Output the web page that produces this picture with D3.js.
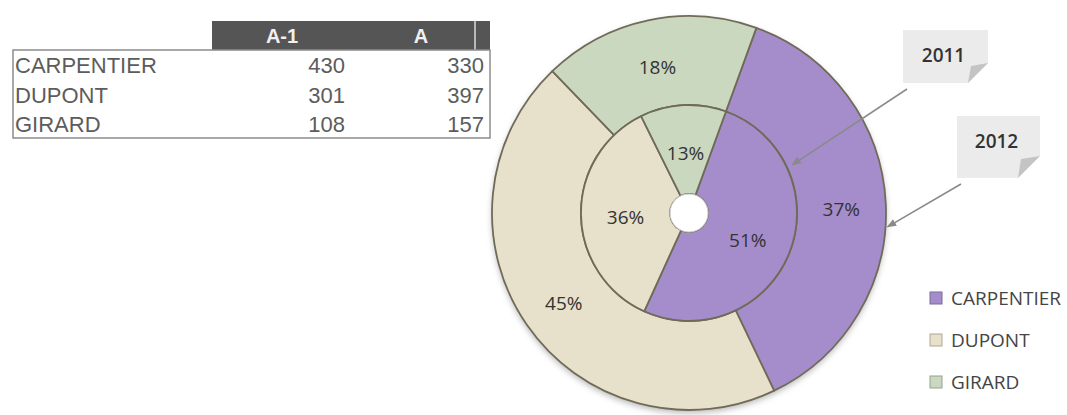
<!DOCTYPE html>
<html>
<head>
<meta charset="utf-8">
<script src="https://cdn.jsdelivr.net/npm/d3@7"></script>
<style>
  body { margin: 0; background: #fff; }
  svg { display: block; }
</style>
</head>
<body>
<svg id="chart" width="1067" height="415"></svg>
<script>
//Data
const names = ["CARPENTIER", "DUPONT", "GIRARD"];
const colHeaders = ["A-1", "A"];
const valuesPrev = [430, 301, 108];   // A-1 -> inner ring (2011)
const valuesCurr = [330, 397, 157];   // A   -> outer ring (2012)
const ringYears = ["2011", "2012"];
const sliceColors = ["#a58dcb", "#e7e0ca", "#c9d8be"];

//Layout constants
const cx = 689, cy = 213;
const holeR = 19, midR = 108, outerR = 197;
const startDeg = 20;

const svg = d3.select("#chart");
const defs = svg.append("defs");

defs.append("filter").attr("id", "shadow")
    .attr("x", "-10%").attr("y", "-10%").attr("width", "120%").attr("height", "120%")
    .append("feDropShadow")
    .attr("dx", 0).attr("dy", 3).attr("stdDeviation", 3)
    .attr("flood-color", "#000").attr("flood-opacity", 0.28);

/************ Table ************/
const table = svg.append("g");
const colX = d3.scalePoint().domain(colHeaders).range([345, 484]);
const rowY = d3.scaleBand().domain(names).range([50, 138]);

//header bar
table.append("rect").attr("x", 212).attr("y", 21).attr("width", 278).attr("height", 29).attr("fill", "#555555");
table.append("rect").attr("x", 474).attr("y", 21).attr("width", 2).attr("height", 29).attr("fill", "#b8b8b8");
table.selectAll("text.head")
    .data(colHeaders)
    .enter().append("text")
    .attr("class", "head")
    .attr("x", (d, i) => i == 0 ? 282 : 421)
    .attr("y", 36)
    .attr("dominant-baseline", "central")
    .attr("text-anchor", "middle")
    .attr("font-family", "Liberation Sans, Arial, sans-serif")
    .attr("font-weight", "bold")
    .attr("font-size", 20)
    .attr("fill", "#f0f0f0")
    .text(d => d);

table.append("rect")
    .attr("x", 13).attr("y", 50).attr("width", 477).attr("height", 88)
    .attr("fill", "none").attr("stroke", "#8c8c8c").attr("stroke-width", 1.5);

const rows = table.selectAll("g.row")
    .data(names)
    .enter().append("g")
    .attr("class", "row")
    .attr("transform", d => "translate(0," + (rowY(d) + rowY.bandwidth() / 2 + 1) + ")");

rows.append("text")
    .attr("x", 15)
    .attr("dominant-baseline", "central")
    .attr("font-family", "Liberation Sans, Arial, sans-serif")
    .attr("font-size", 22)
    .attr("fill", "#5c5c5c")
    .text(d => d);

rows.selectAll("text.val")
    .data((d, i) => [valuesPrev[i], valuesCurr[i]])
    .enter().append("text")
    .attr("class", "val")
    .attr("x", (d, j) => colX(colHeaders[j]))
    .attr("text-anchor", "end")
    .attr("dominant-baseline", "central")
    .attr("font-family", "Liberation Sans, Arial, sans-serif")
    .attr("font-size", 22)
    .attr("fill", "#5c5c5c")
    .text(d => d);

/************ Doughnut ************/
const a0 = startDeg * Math.PI / 180;
const pie = d3.pie().sort(null).startAngle(a0).endAngle(a0 + 2 * Math.PI);

const rings = [
    {year: ringYears[0], values: valuesPrev, r0: holeR, r1: midR},
    {year: ringYears[1], values: valuesCurr, r0: midR, r1: outerR}
];

const donut = svg.append("g").attr("transform", "translate(" + cx + "," + cy + ")");

//soft shadow under whole doughnut
donut.append("circle").attr("r", outerR).attr("fill", "#ddd").attr("filter", "url(#shadow)");

rings.slice().reverse().forEach(function(ring) {
    const arc = d3.arc().innerRadius(ring.r0).outerRadius(ring.r1);
    const total = d3.sum(ring.values);
    const g = donut.append("g");
    const slices = pie(ring.values);

    g.selectAll("path")
        .data(slices)
        .enter().append("path")
        .attr("d", arc)
        .attr("fill", (d, i) => sliceColors[i])
        .attr("stroke", "#6f6b58")
        .attr("stroke-width", 1.8)
        .attr("stroke-linejoin", "round");

    g.selectAll("text")
        .data(slices)
        .enter().append("text")
        .attr("transform", d => "translate(" + arc.centroid(d) + ")")
        .attr("dy", 3)
        .attr("text-anchor", "middle")
        .attr("dominant-baseline", "central")
        .attr("font-family", "Open Sans, sans-serif")
        .attr("font-size", 19)
        .attr("fill", "#333")
        .text(d => Math.round(d.value / total * 100) + "%");
});

//center hole
donut.append("circle").attr("r", holeR).attr("fill", "#fff")
    .attr("stroke", "#cfcfcf").attr("stroke-width", 1);

/************ Callouts ************/
defs.append("marker")
    .attr("id", "arrow")
    .attr("viewBox", "0 0 10 10")
    .attr("refX", 9).attr("refY", 5)
    .attr("markerWidth", 6).attr("markerHeight", 6)
    .attr("orient", "auto")
    .append("path").attr("d", "M0,1 L10,5 L0,9 Z").attr("fill", "#8a8a8a");

const callouts = [
    {label: ringYears[0], box: [903, 30, 85, 53], fold: 20, tipDeg: 65, tipR: midR + 6},
    {label: ringYears[1], box: [957, 116, 83, 62], fold: 22, tipDeg: 94, tipR: outerR + 2}
];

callouts.forEach(function(c) {
    const [x, y, w, h] = c.box;
    const g = svg.append("g");
    const a = c.tipDeg * Math.PI / 180;
    const tx = cx + c.tipR * Math.sin(a), ty = cy - c.tipR * Math.cos(a);

    g.append("line")
        .attr("x1", x + 4).attr("y1", y + h + 6)
        .attr("x2", tx).attr("y2", ty)
        .attr("stroke", "#8a8a8a").attr("stroke-width", 1.6)
        .attr("marker-end", "url(#arrow)");

    g.append("path")
        .attr("d", "M" + x + "," + y + "H" + (x + w) + "V" + (y + h - c.fold) +
                   "L" + (x + w - c.fold) + "," + (y + h) + "H" + x + "Z")
        .attr("fill", "#ebebeb");
    g.append("path")
        .attr("d", "M" + (x + w) + "," + (y + h - c.fold) +
                   "L" + (x + w - c.fold) + "," + (y + h) +
                   "L" + (x + w - c.fold + 3) + "," + (y + h - c.fold + 3) + "Z")
        .attr("fill", "#c4c4c4");

    g.append("text")
        .attr("x", x + w / 2 - 2).attr("y", y + 25)
        .attr("text-anchor", "middle")
        .attr("dominant-baseline", "central")
        .attr("font-family", "Open Sans, sans-serif")
        .attr("font-weight", 600)
        .attr("font-size", 19)
        .attr("fill", "#333")
        .text(c.label);
});

/************ Legend ************/
const legY = d3.scalePoint().domain(names).range([298, 382]);
const legend = svg.append("g").selectAll("g")
    .data(names)
    .enter().append("g")
    .attr("transform", d => "translate(930," + legY(d) + ")");

legend.append("rect")
    .attr("x", 0).attr("y", -6).attr("width", 12).attr("height", 12)
    .attr("fill", (d, i) => sliceColors[i])
    .attr("stroke", (d, i) => d3.color(sliceColors[i]).darker(0.8))
    .attr("stroke-width", 1);

legend.append("text")
    .attr("x", 21)
    .attr("dominant-baseline", "central")
    .attr("font-family", "Open Sans, sans-serif")
    .attr("font-size", 19)
    .attr("fill", "#444")
    .text(d => d);
</script>
</body>
</html>
